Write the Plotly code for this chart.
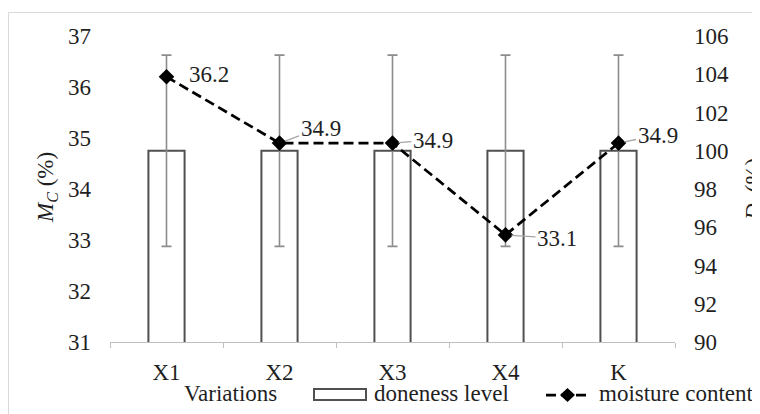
import plotly.graph_objects as go

# ---- data ----
categories = ["X1", "X2", "X3", "X4", "K"]
doneness_level = [100, 100, 100, 100, 100]
doneness_error = [5, 5, 5, 5, 5]
moisture_content = [36.2, 34.9, 34.9, 33.1, 34.9]
moisture_labels = ["36.2", "34.9", "34.9", "33.1", "34.9"]
left_ticks = [31, 32, 33, 34, 35, 36, 37]
right_ticks = [90, 92, 94, 96, 98, 100, 102, 104, 106]

FONT = "Liberation Serif"
FS = 23
TXT = "#1f1f1f"

# page offset of the figure inside the browser page (body margin)
OFF = 8
W, H = 760 - OFF, 414 - OFF
# plot area in page pixels
L, R, T, B = 110, 675, 36, 342


def px(x):
    return (x - L) / (R - L)


def py(y):
    return (B - y) / (B - T)


fig = go.Figure()

fig.add_trace(go.Bar(
    x=categories, y=doneness_level, yaxis="y", width=0.32,
    marker=dict(color="white", line=dict(color="#505050", width=2)),
    error_y=dict(type="data", array=doneness_error, color="#8c8c8c",
                 thickness=1.6, width=5),
    showlegend=False, hoverinfo="skip",
))

fig.add_trace(go.Scatter(
    x=categories, y=moisture_content, yaxis="y2", mode="lines+markers",
    line=dict(color="black", width=2.75, dash="10px,5px"),
    marker=dict(symbol="diamond", size=12, color="black"),
    showlegend=False,
))

# data labels (offsets in pixels from each point)
label_offsets = [(42, -2.5, False), (41, -15, True), (40.5, -3, True),
                 (51.5, 3.5, True), (39, -8, True)]
for cat, val, lab, (dx, dy, arrow) in zip(categories, moisture_content,
                                           moisture_labels, label_offsets):
    if arrow:
        fig.add_annotation(x=cat, y=val, xref="x", yref="y2", text=lab,
                           showarrow=True, ax=dx, ay=dy, arrowhead=0,
                           arrowwidth=1.3, arrowcolor="#a6a6a6", standoff=6,
                           font=dict(family=FONT, size=FS, color=TXT))
    else:
        fig.add_annotation(x=cat, y=val, xref="x", yref="y2", text=lab,
                           showarrow=False, xshift=dx, yshift=-dy,
                           xanchor="center", yanchor="middle",
                           font=dict(family=FONT, size=FS, color=TXT))

# axis titles
fig.add_annotation(x=px(47), y=py(188), xref="paper", yref="paper",
                   xanchor="center", yanchor="middle",
                   text="<i>M</i><sub><i>C</i></sub> (%)", textangle=-90,
                   showarrow=False, font=dict(family=FONT, size=FS, color=TXT))
fig.add_annotation(x=px(755), y=py(190), xref="paper", yref="paper",
                   xanchor="center", yanchor="middle",
                   text="<i>D</i><sub><i>I</i></sub> (%)", textangle=-90,
                   showarrow=False, font=dict(family=FONT, size=FS, color=TXT))

# legend row
LY = 393
fig.add_annotation(x=px(182), y=py(LY), xref="paper", yref="paper",
                   text="Variations", xanchor="left", yanchor="middle",
                   showarrow=False, font=dict(family=FONT, size=FS, color=TXT))
fig.add_shape(type="rect", xref="paper", yref="paper",
              x0=px(314), x1=px(366), y0=py(LY - 4), y1=py(LY + 7),
              line=dict(color="#505050", width=2), fillcolor="white")
fig.add_annotation(x=px(372), y=py(LY), xref="paper", yref="paper",
                   text="doneness level", xanchor="left", yanchor="middle",
                   showarrow=False, font=dict(family=FONT, size=FS, color=TXT))
fig.add_shape(type="line", xref="paper", yref="paper",
              x0=px(546), x1=px(589), y0=py(LY + 2), y1=py(LY + 2),
              line=dict(color="black", width=2.75, dash="10px,5px"))
fig.add_shape(type="path", xref="paper", yref="paper",
              path=(f"M {px(560)},{py(LY + 2)} L {px(567.5)},{py(LY - 5)} "
                    f"L {px(575)},{py(LY + 2)} L {px(567.5)},{py(LY + 9)} Z"),
              line=dict(color="black", width=0), fillcolor="black")
fig.add_annotation(x=px(597), y=py(LY), xref="paper", yref="paper",
                   text="moisture content", xanchor="left", yanchor="middle",
                   showarrow=False, font=dict(family=FONT, size=FS, color=TXT))

# outer chart border
fig.add_shape(type="rect", xref="paper", yref="paper",
              x0=px(8.5), x1=px(770), y0=py(425), y1=py(12.5),
              line=dict(color="#d9d9d9", width=1), fillcolor="rgba(0,0,0,0)",
              layer="below")

fig.update_layout(
    width=W, height=H,
    margin=dict(l=L - OFF, r=760 - R, t=T - OFF, b=414 - B),
    paper_bgcolor="white", plot_bgcolor="white",
    font=dict(family=FONT, size=FS, color=TXT),
    showlegend=False,
    xaxis=dict(
        type="category", range=[-0.5, 4.5], showgrid=False,
        showline=True, linecolor="#bfbfbf", linewidth=1,
        ticks="outside", tickson="boundaries", ticklen=5, tickcolor="#bfbfbf",
        tickfont=dict(family=FONT, size=FS, color=TXT),
        ticklabelstandoff=9,
    ),
    yaxis=dict(
        side="right", range=[90, 106], tickvals=right_ticks,
        showgrid=False, zeroline=False, showline=False, ticks="",
        tickfont=dict(family=FONT, size=FS, color=TXT),
        ticklabelstandoff=18,
    ),
    yaxis2=dict(
        side="left", overlaying="y", range=[31, 37], tickvals=left_ticks,
        showgrid=False, zeroline=False, showline=False, ticks="",
        tickfont=dict(family=FONT, size=FS, color=TXT),
        ticklabelstandoff=18,
    ),
)

fig.write_html("out.html")
